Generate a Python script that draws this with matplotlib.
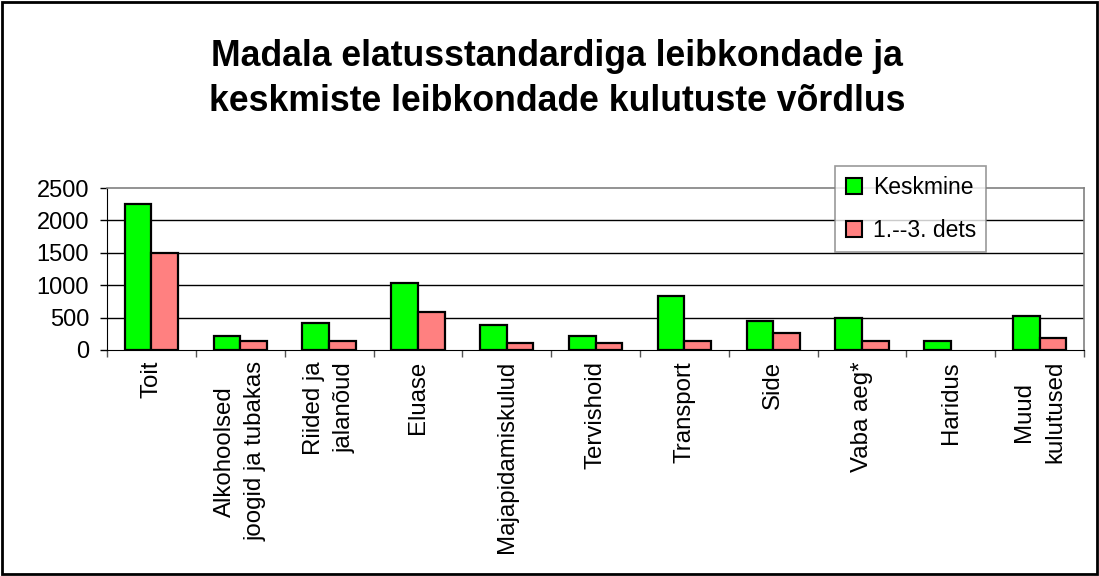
import numpy as np
import matplotlib.pyplot as plt
from matplotlib.lines import Line2D
from matplotlib.patches import Rectangle

plt.rcParams['font.family'] = ['Liberation Sans', 'DejaVu Sans']

# Data
categories = ["Toit", "Alkohoolsed\njoogid ja tubakas", "Riided ja\njalanõud", "Eluase",
              "Majapidamiskulud", "Tervishoid", "Transport", "Side", "Vaba aeg*",
              "Haridus", "Muud\nkulutused"]
keskmine = [2250, 215, 420, 1040, 385, 215, 840, 450, 500, 145, 530]
dets_1_3 = [1495, 145, 145, 590, 105, 115, 145, 255, 145, 0, 180]
yticks = [0, 500, 1000, 1500, 2000, 2500]

green = "#00FF00"
pink = "#FF8080"

fig = plt.figure(figsize=(10.99, 5.76), dpi=100)
ax = fig.add_axes([0.0974, 0.3924, 0.889, 0.2812])

x = np.arange(len(categories))
w = 0.30
b1 = ax.bar(x - w / 2, keskmine, w, color=green, edgecolor="black", linewidth=1.6, zorder=3)
b2 = ax.bar(x + w / 2, dets_1_3, w, color=pink, edgecolor="black", linewidth=1.6, zorder=3)
for bar, v in zip(list(b1) + list(b2), keskmine + dets_1_3):
    if v == 0:
        bar.set_visible(False)

ax.set_xlim(-0.5, len(categories) - 0.5)
ax.set_ylim(0, 2500)
ax.set_yticks(yticks)
ax.tick_params(axis="y", labelsize=17, length=5, width=1, direction="out", pad=8)
for yv in yticks[1:-1]:
    ax.axhline(yv, color="black", linewidth=1, zorder=1)

# category labels between boundary ticks
ax.set_xticks(np.arange(len(categories) + 1) - 0.5)
ax.set_xticklabels([])
ax.tick_params(axis="x", length=5, width=1, color="#555555", direction="out")
for i, lab in enumerate(categories):
    ax.annotate(lab, xy=(i, 0), xycoords=("data", "axes fraction"),
                xytext=(0, -8), textcoords="offset points",
                rotation=90, ha="center", va="top", multialignment="center",
                fontsize=17.3, linespacing=1.5)

for s in ["top", "right"]:
    ax.spines[s].set_color("#808080")
    ax.spines[s].set_linewidth(1.2)
ax.spines["left"].set_color("black")
ax.spines["bottom"].set_color("black")

fig.text(0.507, 1 - 79 / 576, "Madala elatusstandardiga leibkondade ja\nkeskmiste leibkondade kulutuste võrdlus",
         ha="center", va="center", fontsize=25.7, fontweight="bold", linespacing=1.36)

handles = [Line2D([], [], marker="s", linestyle="none", markersize=11,
                  markerfacecolor=green, markeredgecolor="black", markeredgewidth=1.5),
           Line2D([], [], marker="s", linestyle="none", markersize=11,
                  markerfacecolor=pink, markeredgecolor="black", markeredgewidth=1.5)]
leg = fig.legend(handles, ["Keskmine", "1.--3. dets"], loc="upper left",
                 bbox_to_anchor=(835 / 1099, 1 - 166 / 576), fontsize=16.5,
                 frameon=True, fancybox=False, shadow=False, labelspacing=0.85,
                 handlelength=0.8, handletextpad=0.4, borderpad=0.45, borderaxespad=0)
leg.get_frame().set_edgecolor("#808080")
leg.get_frame().set_linewidth(1.2)

fig.patches.append(Rectangle((0.002, 0.003), 0.996, 0.994, transform=fig.transFigure,
                             fill=False, edgecolor="black", linewidth=2))

fig.savefig("out.png", dpi=100)
